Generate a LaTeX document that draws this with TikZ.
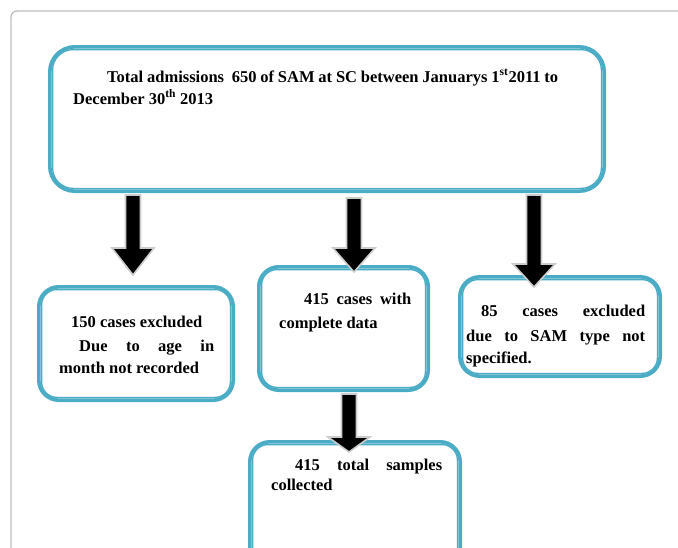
\documentclass[tikz,border=0pt]{standalone}
\usepackage{fontspec}
\setmainfont{Liberation Serif}[BoldFont={Liberation Serif Bold}]
\definecolor{teal}{HTML}{4BACC6}
\definecolor{framegray}{HTML}{BDBDBD}
\tikzset{
  boxnode/.style={draw=teal, line width=3.6pt, rounded corners=20pt, fill=white, inner sep=0pt},
  innerline/.style={draw=teal, line width=1.3pt, rounded corners=16pt},
  arrowfill/.style={fill=black, draw=black!20, line width=1.6pt, line join=miter},
  txt/.style={anchor=base west, inner sep=0pt, font=\fontsize{16.5}{20}\selectfont\bfseries},
}
% name, x1, y1, x2, y2 (outer visible edges), corner radius
\newcommand\dblbox[6]{%
  \node[boxnode, rounded corners=#6pt, minimum width={#4-#2-3.6}, minimum height={#5-#3-3.6}]
    (#1) at ({(#2+#4)/2},{(#3+#5)/2}) {};
  \draw[innerline, rounded corners={#6-4.5}]
    ([xshift=4.6pt,yshift=-4.6pt]#1.north west) rectangle ([xshift=-4.6pt,yshift=4.6pt]#1.south east);}
% x, ytop, yheadbase, ytip
\newcommand\blockarrow[4]{%
  \filldraw[arrowfill] (#1-7.5,#2) -- (#1+7.5,#2) -- (#1+7.5,#3) -- (#1+21,#3) -- (#1,#4)
    -- (#1-21,#3) -- (#1-7.5,#3) -- cycle;}
\newcommand\jline[2]{\makebox[#1pt][s]{#2}}
\begin{document}
\begin{tikzpicture}[x=1pt,y=-1pt]
\clip (0,0) rectangle (678,547);
\fill[white] (0,0) rectangle (678,547);
% outer frame
\draw[framegray, line width=1.3pt, rounded corners=6pt] (11,600) -- (11,11) -- (720,11);

% boxes
\dblbox{top}{48}{45}{606}{193}{25}
\dblbox{left}{37}{285}{235}{402}{20}
\dblbox{mid}{257}{265}{430}{392}{20}
\dblbox{right}{458}{275}{662}{378}{20}
\dblbox{bot}{248}{440}{462}{580}{20}

% arrows
\blockarrow{133}{195}{248}{275}
\blockarrow{354}{198}{248}{272}
\blockarrow{534}{195}{264}{287}
\blockarrow{349}{394}{437}{452}

% texts
\node[txt] (t1) at (107,82) {\jline{451}{Total admissions \ 650 of SAM at SC between Januarys 1\textsuperscript{st}2011 to}};
\node[txt] (t2) at (73,104) {December 30\textsuperscript{th} 2013};

\node[txt] (l1) at (71,327) {150 cases excluded};
\node[txt] (l2) at (79,351) {\jline{135}{Due to age in}};
\node[txt] (l3) at (59,373) {month not recorded};

\node[txt] (m1) at (304,304) {\jline{107}{415 cases with}};
\node[txt] (m2) at (279,328) {complete data};

\node[txt] (r1) at (481,316) {\jline{164}{85 cases excluded}};
\node[txt] (r2) at (466,341) {\jline{179}{due to SAM type not}};
\node[txt] (r3) at (466,363) {specified.};

\node[txt] (b1) at (295,470) {\jline{147}{415 total samples}};
\node[txt] (b2) at (271,490) {collected};
\end{tikzpicture}
\end{document}
